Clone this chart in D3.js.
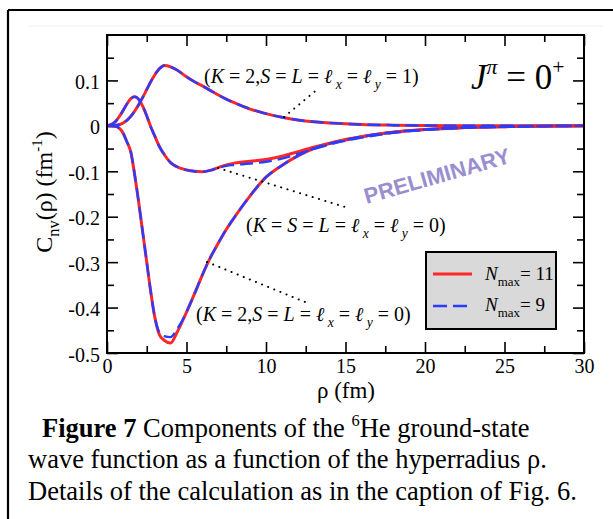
<!DOCTYPE html>
<html>
<head>
<meta charset="utf-8">
<script src="https://d3js.org/d3.v7.min.js"></script>
<style>
  html, body { margin: 0; padding: 0; background: #fff; }
  svg { display: block; }
  text { font-family: "Liberation Serif", "Times New Roman", serif; }
</style>
</head>
<body>
<svg id="chart" width="613" height="519"></svg>
<script>
// Hyperradius grid (fm)
const rho = [0, 0.5, 0.8, 1.0, 1.25, 1.5, 1.75, 2.0, 2.25, 2.5, 2.75, 3.0, 3.3, 3.6, 4.0, 4.4,
             5.0, 5.5, 6.0, 6.5, 7.0, 7.5, 8, 9, 10, 11, 12, 13, 14, 15, 16, 18, 20, 22, 25, 30];

// (K=2, S=L=lx=ly=1)
const compA_N11 = [0, 0.001, 0.003, 0.006, 0.012, 0.021, 0.033, 0.047, 0.063, 0.080, 0.097, 0.112, 0.126, 0.133, 0.130, 0.123,
                   0.108, 0.097, 0.088, 0.078, 0.068, 0.059, 0.051, 0.037, 0.027, 0.019, 0.013, 0.009, 0.0065, 0.0045, 0.003, 0.0015, 0.0008, 0.0004, 0.0001, 0];
const compA_N9  = [0, 0.001, 0.003, 0.006, 0.012, 0.021, 0.033, 0.047, 0.063, 0.080, 0.097, 0.112, 0.126, 0.133, 0.130, 0.123,
                   0.108, 0.097, 0.088, 0.078, 0.068, 0.059, 0.051, 0.037, 0.027, 0.019, 0.013, 0.009, 0.0065, 0.0045, 0.003, 0.0015, 0.0008, 0.0004, 0.0001, 0];

// (K=S=L=lx=ly=0)
const compB_N11 = [0, 0.008, 0.022, 0.033, 0.048, 0.060, 0.064, 0.058, 0.043, 0.022, -0.002, -0.022, -0.046, -0.063, -0.081, -0.090,
                   -0.097, -0.100, -0.101, -0.098, -0.092, -0.086, -0.082, -0.078, -0.074, -0.067, -0.057, -0.047, -0.038, -0.030, -0.024, -0.014, -0.008, -0.0045, -0.0018, 0];
const compB_N9  = [0, 0.008, 0.022, 0.033, 0.048, 0.060, 0.064, 0.058, 0.043, 0.022, -0.002, -0.022, -0.046, -0.063, -0.081, -0.090,
                   -0.097, -0.100, -0.101, -0.098, -0.092, -0.088, -0.086, -0.083, -0.079, -0.072, -0.062, -0.051, -0.041, -0.033, -0.026, -0.0155, -0.009, -0.005, -0.002, 0];

// (K=2, S=L=lx=ly=0)
const compC_N11 = [0, -0.001, -0.006, -0.015, -0.035, -0.058, -0.110, -0.170, -0.235, -0.300, -0.365, -0.420, -0.460, -0.472, -0.478, -0.455,
                   -0.410, -0.370, -0.328, -0.290, -0.258, -0.228, -0.202, -0.154, -0.113, -0.087, -0.066, -0.050, -0.039, -0.031, -0.024, -0.014, -0.008, -0.0045, -0.0018, 0];
const compC_N9  = [0, -0.001, -0.006, -0.015, -0.035, -0.058, -0.110, -0.170, -0.235, -0.300, -0.365, -0.420, -0.455, -0.463, -0.465, -0.448,
                   -0.410, -0.370, -0.328, -0.290, -0.258, -0.228, -0.202, -0.154, -0.113, -0.087, -0.066, -0.050, -0.039, -0.031, -0.024, -0.014, -0.008, -0.0045, -0.0018, 0];

const xTicks = [0, 5, 10, 15, 20, 25, 30];
const xTickLabels = ["0", "5", "10", "15", "20", "25", "30"];
const xMinorTicks = [2.5, 7.5, 12.5, 17.5, 22.5, 27.5];
const yTicks = [0.1, 0, -0.1, -0.2, -0.3, -0.4, -0.5];
const yTickLabels = ["0.1", "0", "-0.1", "-0.2", "-0.3", "-0.4", "-0.5"];
const yMinorTicks = [0.15, 0.05, -0.05, -0.15, -0.25, -0.35, -0.45];

const legendLabels = ["11", "9"];

const RED = "#ff2626";
const BLUE = "#2a3cff";

const svg = d3.select("#chart");

// Page frame
svg.append("line").attr("x1", 8).attr("x2", 613).attr("y1", 10).attr("y2", 10)
  .attr("stroke", "#000").attr("stroke-width", 2.2);
svg.append("line").attr("x1", 8).attr("x2", 8).attr("y1", 10).attr("y2", 519)
  .attr("stroke", "#000").attr("stroke-width", 2.2);
svg.append("line").attr("x1", 28).attr("x2", 603).attr("y1", 26).attr("y2", 26)
  .attr("stroke", "#f0f0f0").attr("stroke-width", 1);

const L = 107, R = 584, T = 35, B = 353;
const x = d3.scaleLinear().domain([0, 30]).range([L, R]);
const y = d3.scaleLinear().domain([-0.5, 0.2]).range([B, T]);

// Axes with inward ticks on all four sides
function styleAxis(g) {
  g.select(".domain").remove();
  g.selectAll(".tick line").attr("stroke", "#000").attr("stroke-width", 1.6);
  g.selectAll("text").style("font-family", '"Liberation Serif", serif').style("font-size", "20px").style("fill", "#000");
}
svg.append("g").attr("transform", `translate(0,${B})`)
  .call(d3.axisBottom(x).tickValues(xTicks).tickFormat((d, i) => xTickLabels[i]).tickSize(-11).tickSizeOuter(0).tickPadding(6))
  .call(styleAxis);
svg.append("g").attr("transform", `translate(0,${B})`)
  .call(d3.axisBottom(x).tickValues(xMinorTicks).tickFormat("").tickSize(-7).tickSizeOuter(0)).call(styleAxis);
svg.append("g").attr("transform", `translate(0,${T})`)
  .call(d3.axisTop(x).tickValues(xTicks).tickFormat("").tickSize(-11).tickSizeOuter(0)).call(styleAxis);
svg.append("g").attr("transform", `translate(0,${T})`)
  .call(d3.axisTop(x).tickValues(xMinorTicks).tickFormat("").tickSize(-7).tickSizeOuter(0)).call(styleAxis);

const gy = svg.append("g").attr("transform", `translate(${L},0)`)
  .call(d3.axisLeft(y).tickValues(yTicks).tickFormat((d, i) => yTickLabels[i]).tickSize(-11).tickSizeOuter(0).tickPadding(7))
  .call(styleAxis);
gy.selectAll("text").attr("dy", "0.4em");
svg.append("g").attr("transform", `translate(${L},0)`)
  .call(d3.axisLeft(y).tickValues(yMinorTicks).tickFormat("").tickSize(-7).tickSizeOuter(0)).call(styleAxis);
svg.append("g").attr("transform", `translate(${R},0)`)
  .call(d3.axisRight(y).tickValues(yTicks).tickFormat("").tickSize(-11).tickSizeOuter(0)).call(styleAxis);
svg.append("g").attr("transform", `translate(${R},0)`)
  .call(d3.axisRight(y).tickValues(yMinorTicks).tickFormat("").tickSize(-7).tickSizeOuter(0)).call(styleAxis);

// Curves
const line = d3.line().x((d, i) => x(rho[i])).y(d => y(d)).curve(d3.curveMonotoneX);
const plot = svg.append("g");
[compA_N11, compB_N11, compC_N11].forEach(s => {
  plot.append("path").attr("d", line(s)).attr("fill", "none")
    .attr("stroke", RED).attr("stroke-width", 3).attr("stroke-linejoin", "round");
});
[compA_N9, compB_N9, compC_N9].forEach(s => {
  plot.append("path").attr("d", line(s)).attr("fill", "none")
    .attr("stroke", BLUE).attr("stroke-width", 2.4).attr("stroke-dasharray", "13,6").attr("stroke-linejoin", "round");
});

// Plot frame
svg.append("rect").attr("x", L).attr("y", T).attr("width", R - L).attr("height", B - T)
  .attr("fill", "none").attr("stroke", "#000").attr("stroke-width", 2);

// Rich text helper: pieces of [text, style]
function richText(g, px, py, size, pieces, anchor) {
  const t = g.append("text").attr("x", px).attr("y", py).style("font-size", size + "px").style("fill", "#000");
  if (anchor) t.attr("text-anchor", anchor);
  let shift = 0;
  pieces.forEach(([s, st]) => {
    const sp = t.append("tspan").text(s);
    let target = 0;
    if (st === "i" || st === "isub" || st === "isup") sp.style("font-style", "italic");
    if (st === "b") sp.style("font-weight", "bold");
    if (st === "sub" || st === "isub") { target = size * 0.3; sp.style("font-size", (size * 0.68) + "px"); }
    if (st === "sup" || st === "isup") { target = -size * 0.42; sp.style("font-size", (size * 0.62) + "px"); }
    if (target !== shift) { sp.attr("dy", target - shift); shift = target; }
  });
  return t;
}

const notes = svg.append("g");
richText(notes, 204, 83, 20, [["(", "n"], ["K", "i"], [" = 2,", "n"], ["S", "i"], [" = ", "n"], ["L", "i"], [" = ", "n"],
  ["ℓ", "i"], [" x", "isub"], [" = ", "n"], ["ℓ", "i"], [" y", "isub"], [" = 1)", "n"]]);
richText(notes, 246, 232, 20, [["(", "n"], ["K", "i"], [" = ", "n"], ["S", "i"], [" = ", "n"], ["L", "i"], [" = ", "n"],
  ["ℓ", "i"], [" x", "isub"], [" = ", "n"], ["ℓ", "i"], [" y", "isub"], [" = 0)", "n"]]);
richText(notes, 196, 321, 20, [["(", "n"], ["K", "i"], [" = 2,", "n"], ["S", "i"], [" = ", "n"], ["L", "i"], [" = ", "n"],
  ["ℓ", "i"], [" x", "isub"], [" = ", "n"], ["ℓ", "i"], [" y", "isub"], [" = 0)", "n"]]);

// Dotted leader lines
const leaders = [[284, 117, 319, 88], [218, 168, 345, 207], [207, 262, 305, 302]];
leaders.forEach(([x1, y1, x2, y2]) => {
  notes.append("line").attr("x1", x1).attr("y1", y1).attr("x2", x2).attr("y2", y2)
    .attr("stroke", "#000").attr("stroke-width", 2).attr("stroke-dasharray", "0.1,6.5").attr("stroke-linecap", "round");
});

// J^pi label
richText(svg, 471, 89, 35, [["J", "i"], ["π", "isup"], [" = 0", "n"], ["+", "sup"]]);

// Watermark
svg.append("text").attr("transform", "translate(437,176) rotate(-16)")
  .attr("text-anchor", "middle").attr("dominant-baseline", "central")
  .style("font-family", '"Liberation Sans", Arial, sans-serif').style("font-weight", "bold").style("font-size", "22px")
  .style("fill", "#9a8ecf").text("PRELIMINARY");

// Legend
const lg = svg.append("g");
lg.append("rect").attr("x", 426).attr("y", 252).attr("width", 130).attr("height", 77)
  .attr("fill", "#d9d9d9").attr("stroke", "#000").attr("stroke-width", 2);
lg.append("line").attr("x1", 433).attr("x2", 472).attr("y1", 274).attr("y2", 274)
  .attr("stroke", RED).attr("stroke-width", 3);
lg.append("line").attr("x1", 433).attr("x2", 472).attr("y1", 306).attr("y2", 306)
  .attr("stroke", BLUE).attr("stroke-width", 2.4).attr("stroke-dasharray", "14,6");
richText(lg, 485, 280, 19, [["N", "i"], ["max", "sub"], ["= " + legendLabels[0], "n"]]);
richText(lg, 485, 311, 19, [["N", "i"], ["max", "sub"], ["= " + legendLabels[1], "n"]]);

// Axis titles
svg.append("text").attr("x", 346).attr("y", 398).attr("text-anchor", "middle")
  .style("font-size", "23px").style("fill", "#000").text("ρ (fm)");
const yt = richText(svg, 0, 0, 24, [["C", "n"], ["nv", "sub"], ["(ρ) (fm", "n"], ["-1", "sup"], [")", "n"]], "middle");
yt.attr("transform", "translate(52,192) rotate(-90)");

// Caption
richText(svg, 42, 437, 26.5, [["Figure 7", "b"], [" Components of the ", "n"], ["6", "sup"], ["He ground-state", "n"]]);
svg.append("text").attr("x", 28).attr("y", 468).style("font-size", "26.5px").style("fill", "#000")
  .text("wave function as a function of the hyperradius ρ.");
svg.append("text").attr("x", 28).attr("y", 500).style("font-size", "26.5px").style("fill", "#000")
  .text("Details of the calculation as in the caption of Fig. 6.");
</script>
</body>
</html>
